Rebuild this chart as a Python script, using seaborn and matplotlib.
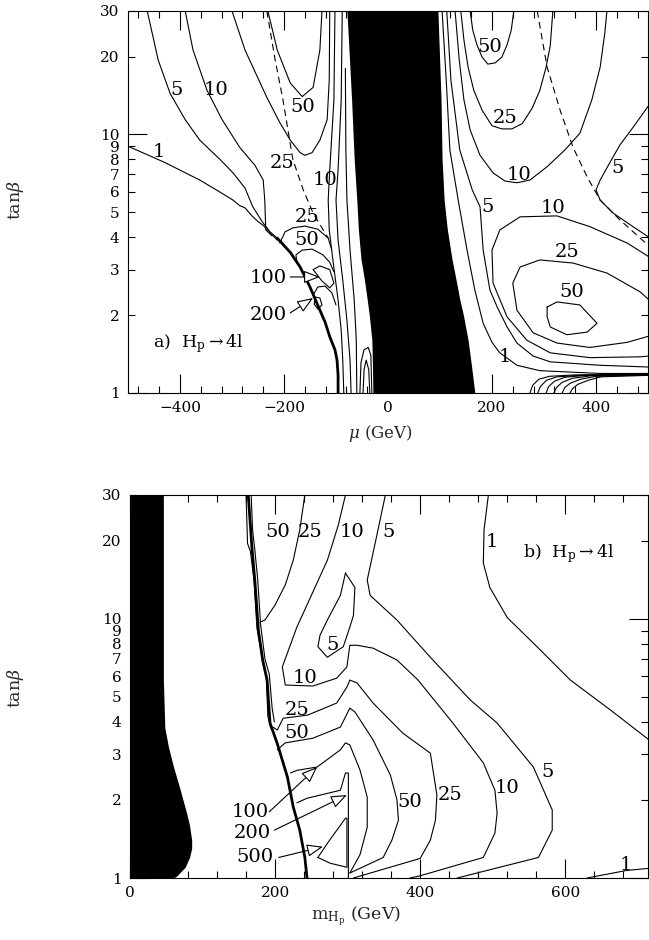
import matplotlib
matplotlib.use('Agg')
import matplotlib.pyplot as plt
import seaborn as sns

sns.set_theme(style='ticks')
plt.rcParams['font.family'] = ['DejaVu Serif', 'DejaVu Sans']
plt.rcParams['mathtext.fontset'] = 'dejavuserif'

# ---------------- axis tick values ----------------
ytick_major = [1, 10]
ytick_minor = [2, 3, 4, 5, 6, 7, 8, 9, 20, 30]
a_xmajor = [-400, -200, 0, 200, 400]
a_xminor = [-480, -440, -360, -320, -280, -240, -160, -120, -80, -40,
            40, 80, 120, 160, 240, 280, 320, 360, 440, 480]
b_xmajor = [0, 200, 400, 600]
b_xminor = [40, 80, 120, 160, 240, 280, 320, 360, 440, 480, 520, 560, 640, 680]

# ---------------- panel a: mu vs tan(beta) ----------------
a_black_tan = [1.0, 1.3, 1.6, 2.0, 2.3, 2.8, 3.3, 4.3, 5.57, 8.0, 13.6, 30]
a_black_left = [-29, -30, -31, -36, -40, -46, -52, -57, -60, -65, -70, -79]
a_black_right = [167, 160, 154, 145, 138, 130, 123, 114, 108, 104, 102, 96]

a_c1_mu = [-500, -430, -362, -330, -298, -285, -275, -262, -250, -240, -228, -213]
a_c1_tan = [9.0, 7.8, 6.66, 6.1, 5.57, 5.3, 5.2, 4.85, 4.6, 4.45, 4.2, 3.9]
a_c5_mu = [-463, -442, -419, -390, -362, -323, -298, -275, -260, -242, -227, -213]
a_c5_tan = [30, 19.4, 14.4, 11.4, 9.5, 8.0, 7.1, 6.2, 5.25, 4.6, 4.2, 3.97]
a_c10_mu = [-390, -375, -348, -319, -285, -256, -240, -237, -235, -223]
a_c10_tan = [30, 21.2, 14.8, 11.4, 8.9, 7.6, 6.66, 5.57, 4.27, 4.05]
a_c25_mu = [-300, -275, -233, -208, -188, -169, -160, -146, -131, -117, -113, -112]
a_c25_tan = [30, 21.2, 13.9, 11.1, 9.5, 8.5, 8.3, 8.5, 9.5, 11.4, 16.2, 30]
a_c50_mu = [-231, -213, -188, -165, -144, -131, -127]
a_c50_tan = [30, 21.2, 15.8, 14.0, 15.2, 21.2, 30]
a_va_mu = [-102, -104, -112, -115, -113, -106, -96, -90, -87, -85]
a_va_tan = [30, 13.6, 7.3, 5.57, 4.27, 3.27, 2.29, 1.75, 1.34, 1.0]
a_vb_mu = [-88, -90, -96, -100, -96, -87, -79, -73, -71]
a_vb_tan = [30, 13.6, 7.3, 5.57, 3.9, 2.73, 1.91, 1.34, 1.0]
a_vc_mu = [-82, -81, -79, -73, -65, -61, -60]
a_vc_tan = [18.0, 8.7, 5.57, 3.57, 2.29, 1.6, 1.0]
a_arch25_mu = [-208, -198, -183, -160, -135, -115, -108]
a_arch25_tan = [3.8, 4.2, 4.35, 4.42, 4.3, 3.97, 3.57]
a_arch50_mu = [-175, -177, -165, -146, -125, -112, -104]
a_arch50_tan = [3.18, 3.42, 3.57, 3.6, 3.42, 3.2, 2.94]
a_loop100_mu = [-144, -131, -112, -104, -112, -127, -144]
a_loop100_tan = [3.0, 3.1, 3.0, 2.66, 2.55, 2.71, 3.0]
a_arch3_mu = [-144, -135, -121, -108, -100]
a_arch3_tan = [2.39, 2.57, 2.59, 2.44, 2.19]
a_loop200_mu = [-140, -131, -127, -135, -142, -140]
a_loop200_tan = [2.35, 2.33, 2.19, 2.11, 2.21, 2.35]
a_thick_mu = [-213, -188, -169, -150, -137, -121, -112, -102, -98, -96, -96]
a_thick_tan = [3.97, 3.5, 3.07, 2.57, 2.23, 1.88, 1.65, 1.47, 1.34, 1.17, 1.0]
a_band1_mu = [-54, -52, -46, -38, -33, -31]
a_band1_tan = [1.0, 1.31, 1.47, 1.5, 1.4, 1.0]
a_band2_mu = [-48, -46, -42, -37, -35]
a_band2_tan = [1.0, 1.23, 1.34, 1.23, 1.0]
a_dashl_mu = [-233, -217, -202, -183, -163, -144, -127, -115]
a_dashl_tan = [30, 19.4, 13.6, 8.0, 6.1, 4.96, 4.35, 3.97]
a_dashr_mu = [287, 306, 331, 356, 383, 408, 446, 504]
a_dashr_tan = [30, 18.2, 12.4, 8.9, 6.85, 5.57, 4.67, 3.67]
a_r1_mu = [104, 112, 119, 135, 152, 167, 183, 200, 215, 248, 292, 408, 502]
a_r1_tan = [30, 16.2, 8.7, 5.57, 3.57, 2.5, 1.86, 1.57, 1.43, 1.28, 1.22, 1.19, 1.19]
a_r5_mu = [113, 121, 138, 162, 177, 183, 196, 210, 229, 248, 279, 312, 408, 502]
a_r5_tan = [30, 16.2, 8.7, 6.1, 5.25, 3.57, 2.5, 2.15, 1.8, 1.56, 1.39, 1.32, 1.28, 1.26]
a_r10u_mu = [129, 137, 146, 158, 177, 202, 225, 248, 273, 306, 340, 369, 392, 408, 417, 421]
a_r10u_tan = [30, 19.4, 13.6, 10.4, 8.3, 7.1, 6.6, 6.5, 6.66, 7.5, 8.7, 10.1, 13.6, 18.2, 24.7, 30]
a_r25u_mu = [140, 146, 154, 165, 181, 200, 219, 238, 258, 277, 292, 304, 312, 317]
a_r25u_tan = [30, 23.2, 18.2, 14.8, 12.4, 10.8, 10.5, 10.5, 11.0, 12.6, 14.8, 18.2, 22.0, 30]
a_r50u_mu = [158, 163, 171, 181, 192, 206, 219, 229, 237, 242]
a_r50u_tan = [30, 25.3, 22.2, 19.9, 18.7, 18.9, 19.9, 22.2, 25.3, 30]
a_r5b_mu = [502, 475, 446, 427, 408, 400, 408, 433, 471, 502]
a_r5b_tan = [13.0, 10.9, 9.1, 7.8, 6.66, 6.1, 5.57, 4.96, 4.4, 4.0]
a_r10m_mu = [502, 460, 388, 325, 254, 215, 200, 202, 229, 267, 312, 388, 485, 502]
a_r10m_tan = [3.36, 3.8, 4.4, 4.84, 4.8, 4.27, 3.57, 2.66, 1.97, 1.6, 1.43, 1.37, 1.38, 1.39]
a_r25_mu = [502, 485, 421, 356, 292, 254, 240, 248, 279, 325, 388, 460, 502]
a_r25_tan = [2.29, 2.46, 2.91, 3.18, 3.27, 3.07, 2.66, 2.09, 1.71, 1.56, 1.5, 1.57, 1.66]
a_r50_mu = [306, 325, 369, 402, 383, 344, 312, 306, 306]
a_r50_tan = [2.15, 2.25, 2.19, 1.86, 1.72, 1.68, 1.8, 1.97, 2.15]
a_arc1_mu = [273, 278, 290, 310, 360, 500]
a_arc1_tan = [1.0, 1.07, 1.13, 1.16, 1.175, 1.18]
a_arc2_mu = [288, 293, 305, 325, 370, 500]
a_arc2_tan = [1.0, 1.06, 1.12, 1.155, 1.17, 1.18]
a_arc3_mu = [304, 309, 320, 340, 380, 500]
a_arc3_tan = [1.0, 1.06, 1.11, 1.15, 1.17, 1.18]
a_arc4_mu = [319, 324, 335, 355, 390, 500]
a_arc4_tan = [1.0, 1.05, 1.10, 1.14, 1.165, 1.175]
a_arc5_mu = [335, 340, 350, 370, 400, 500]
a_arc5_tan = [1.0, 1.05, 1.09, 1.13, 1.16, 1.175]
a_arc6_mu = [350, 355, 365, 385, 410, 500]
a_arc6_tan = [1.0, 1.04, 1.08, 1.12, 1.155, 1.17]

a_lab_text = ['5', '10', '50', '1', '25', '10', '25', '50', '100', '200',
              '50', '25', '10', '5', '10', '5', '25', '50', '1']
a_lab_mu = [-406, -331, -163, -440, -204, -121, -156, -156, -231, -231,
            196, 225, 252, 192, 317, 442, 344, 354, 225]
a_lab_tan = [14.8, 14.8, 12.8, 8.55, 7.75, 6.66, 4.8, 3.9, 2.78, 2.0,
             21.8, 11.6, 6.95, 5.25, 5.2, 7.4, 3.5, 2.46, 1.38]
a_arrow_tail = [(-188, 2.81), (-188, 2.04)]
a_arrow_tip = [(-131, 2.81), (-144, 2.33)]

# ---------------- panel b: m_Hp vs tan(beta) ----------------
b_black_tan = [1.0, 1.02, 1.05, 1.1, 1.2, 1.3, 1.4, 1.6, 1.78, 2.2, 2.68, 3.2, 3.8, 5.8, 30]
b_black_m = [60, 65, 69, 76, 82, 85, 85, 82, 78, 69, 60, 53, 48, 46, 46]

b_thick_m = [163, 168, 172, 177, 183, 189, 193, 203, 217, 225, 234, 241, 244]
b_thick_tan = [30, 18.9, 14.1, 9.0, 6.9, 5.8, 3.96, 3.3, 2.45, 1.88, 1.53, 1.2, 1.0]
b_thinA_m = [160, 162, 166, 171, 175, 181, 184, 188, 190, 194, 199]
b_thinA_tan = [30, 19.5, 18.2, 14.0, 9.2, 7.4, 6.6, 5.9, 4.2, 3.8, 3.6]
b_thinB_m = [167, 169, 172, 176, 180, 186, 192, 196, 199]
b_thinB_tan = [30, 22, 18.5, 14.2, 9.5, 7.0, 6.1, 4.5, 4.0]
b_u25_m = [241, 234, 225, 214, 200, 186, 179]
b_u25_tan = [30, 22, 16.8, 13.5, 11.3, 9.88, 9.7]
b_c10_m = [297, 287, 272, 230, 210, 214, 252, 285, 299, 303, 313, 335, 368, 397,
           445, 487, 503, 506, 503, 487, 400, 386]
b_c10_tan = [30, 22.9, 16.8, 9.28, 6.52, 5.55, 5.5, 5.9, 6.52, 7.9, 7.9, 7.7, 6.93, 5.8,
             3.96, 2.78, 2.18, 1.78, 1.49, 1.2, 1.02, 1.0]
b_c5_m = [352, 339, 327, 331, 368, 414, 469, 506, 556, 582, 582, 563, 451]
b_c5_tan = [30, 20.2, 14.1, 12.3, 9.88, 7.1, 4.86, 3.96, 2.68, 1.83, 1.53, 1.2, 1.0]
b_c1_m = [494, 488, 487, 496, 520, 561, 607, 662, 716]
b_c1_tan = [30, 22, 16.4, 13.2, 10.1, 7.8, 5.8, 4.45, 3.4]
b_c1b_m = [630, 685, 716]
b_c1b_tan = [1.0, 1.07, 1.09]
b_loop5_m = [297, 310, 308, 303, 294, 272, 259, 262, 272, 290, 297]
b_loop5_tan = [15.0, 13.2, 10.3, 9.28, 7.8, 7.1, 7.8, 8.65, 9.88, 12.3, 15.0]
b_c25_m = [197, 203, 211, 245, 285, 299, 303, 313, 335, 376, 414, 423, 421, 414, 400, 308]
b_c25_tan = [3.82, 3.72, 4.13, 4.25, 4.73, 5.45, 5.8, 5.65, 4.73, 3.62, 3.03, 2.09, 1.67, 1.4, 1.19, 1.0]
b_c50_m = [203, 214, 252, 290, 303, 310, 335, 359, 368, 370, 361, 349, 303]
b_c50_tan = [3.12, 3.32, 3.46, 3.82, 4.52, 4.37, 3.41, 2.49, 2.0, 1.67, 1.4, 1.2, 1.045]
b_c100_m = [221, 230, 258, 290, 297, 303, 317, 327, 327, 317, 303]
b_c100_tan = [2.54, 2.6, 2.68, 3.12, 3.32, 3.26, 2.61, 2.05, 1.57, 1.23, 1.045]
b_c200_m = [230, 244, 290, 297, 301, 301]
b_c200_tan = [1.95, 2.03, 2.18, 2.54, 2.54, 1.0]
b_c500_m = [259, 272, 297, 299, 299, 276, 259]
b_c500_tan = [1.2, 1.36, 1.7, 1.7, 1.1, 1.14, 1.2]

b_lab_text = ['50', '25', '10', '5', '1', '5', '10', '25', '50', '100', '200', '500',
              '50', '25', '10', '5', '1']
b_lab_m = [203, 248, 306, 356, 499, 279, 241, 230, 230, 166, 168, 172, 386, 441, 520, 575, 683]
b_lab_tan = [21.6, 21.6, 21.6, 21.6, 19.8, 7.9, 5.9, 4.44, 3.62, 1.8, 1.49, 1.2,
             1.96, 2.09, 2.22, 2.56, 1.12]
b_arrow_tail = [(192, 1.8), (199, 1.53), (205, 1.2)]
b_arrow_tip = [(258, 2.68), (299, 2.09), (266, 1.32)]

# ---------------- drawing ----------------
W, H = 649, 940
fig = plt.figure(figsize=(W / 100, H / 100), dpi=100)
axA = fig.add_axes([128 / W, 1 - 393 / H, 520 / W, 382 / H])
axB = fig.add_axes([130 / W, 1 - 878 / H, 518 / W, 383 / H])

LW = 0.8
LABEL_FS = 14


def curve(ax, xs, ys, lw=LW, ls='-'):
    sns.lineplot(x=xs, y=ys, ax=ax, sort=False, estimator=None,
                 color='black', linewidth=lw, linestyle=ls)


def style(ax, xlim, xmaj, xmin):
    ax.set_yscale('log')
    ax.set_xlim(*xlim)
    ax.set_ylim(1, 30)
    ax.set_xticks(xmaj, labels=[str(v).replace('-', '\u2212') for v in xmaj])
    ax.set_xticks(xmin, minor=True)
    ax.set_yticks(ytick_major, labels=[str(v) for v in ytick_major])
    ax.set_yticks(ytick_minor, minor=True, labels=[str(v) for v in ytick_minor])
    ax.tick_params(which='both', direction='in', top=True, right=True,
                   color='black', width=0.8, labelsize=11, pad=6,
                   labelcolor='black')
    ax.tick_params(which='major', length=14)
    ax.tick_params(which='minor', length=5)
    for s in ax.spines.values():
        s.set_linewidth(0.8)
        s.set_color('black')
    ax.set_xlabel('')
    ax.set_ylabel('')


def arrow(ax, tail, tip):
    ax.annotate('', xy=tip, xytext=tail,
                arrowprops=dict(arrowstyle='-|>,head_length=0.9,head_width=0.35',
                                fc='white', ec='black', lw=0.8,
                                shrinkA=0, shrinkB=0, mutation_scale=11))


# panel a
axA.fill_betweenx(a_black_tan, a_black_left, a_black_right, color='black', lw=0)
for xs, ys in [(a_c1_mu, a_c1_tan), (a_c5_mu, a_c5_tan), (a_c10_mu, a_c10_tan),
               (a_c25_mu, a_c25_tan), (a_c50_mu, a_c50_tan), (a_va_mu, a_va_tan),
               (a_vb_mu, a_vb_tan), (a_vc_mu, a_vc_tan), (a_arch25_mu, a_arch25_tan),
               (a_arch50_mu, a_arch50_tan), (a_loop100_mu, a_loop100_tan),
               (a_arch3_mu, a_arch3_tan), (a_loop200_mu, a_loop200_tan),
               (a_band1_mu, a_band1_tan), (a_band2_mu, a_band2_tan),
               (a_r1_mu, a_r1_tan), (a_r5_mu, a_r5_tan), (a_r10u_mu, a_r10u_tan),
               (a_r25u_mu, a_r25u_tan), (a_r50u_mu, a_r50u_tan), (a_r5b_mu, a_r5b_tan),
               (a_r10m_mu, a_r10m_tan), (a_r25_mu, a_r25_tan), (a_r50_mu, a_r50_tan),
               (a_arc1_mu, a_arc1_tan), (a_arc2_mu, a_arc2_tan), (a_arc3_mu, a_arc3_tan),
               (a_arc4_mu, a_arc4_tan), (a_arc5_mu, a_arc5_tan), (a_arc6_mu, a_arc6_tan)]:
    curve(axA, xs, ys)
curve(axA, a_thick_mu, a_thick_tan, lw=2.0)
curve(axA, a_dashl_mu, a_dashl_tan, ls=(0, (6, 4)))
curve(axA, a_dashr_mu, a_dashr_tan, ls=(0, (6, 4)))
for t, x, y in zip(a_lab_text, a_lab_mu, a_lab_tan):
    axA.text(x, y, t, fontsize=LABEL_FS, ha='center', va='center', color='black')
for tl, tp in zip(a_arrow_tail, a_arrow_tip):
    arrow(axA, tl, tp)
axA.text(-452, 1.56, r'a)  H$_{\rm p}$$\rightarrow$4l', fontsize=12.5,
         ha='left', va='center', color='black')
style(axA, (-500, 500), a_xmajor, a_xminor)

# panel b
axB.fill_betweenx(b_black_tan, 0, b_black_m, color='black', lw=0)
for xs, ys in [(b_thinA_m, b_thinA_tan), (b_thinB_m, b_thinB_tan), (b_u25_m, b_u25_tan),
               (b_c10_m, b_c10_tan), (b_c5_m, b_c5_tan), (b_c1_m, b_c1_tan),
               (b_c1b_m, b_c1b_tan), (b_loop5_m, b_loop5_tan), (b_c25_m, b_c25_tan),
               (b_c50_m, b_c50_tan), (b_c100_m, b_c100_tan), (b_c200_m, b_c200_tan),
               (b_c500_m, b_c500_tan)]:
    curve(axB, xs, ys)
curve(axB, b_thick_m, b_thick_tan, lw=2.0)
for t, x, y in zip(b_lab_text, b_lab_m, b_lab_tan):
    axB.text(x, y, t, fontsize=LABEL_FS, ha='center', va='center', color='black')
for tl, tp in zip(b_arrow_tail, b_arrow_tip):
    arrow(axB, tl, tp)
axB.text(542, 17.9, r'b)  H$_{\rm p}$$\rightarrow$4l', fontsize=12.5,
         ha='left', va='center', color='black')
style(axB, (0, 714), b_xmajor, b_xminor)

# axis titles
fig.text(15 / W, 1 - 200 / H, r'tan$\beta$', rotation=90, fontsize=12.5,
         ha='center', va='center')
fig.text(15 / W, 1 - 688 / H, r'tan$\beta$', rotation=90, fontsize=12.5,
         ha='center', va='center')
fig.text(380 / W, 1 - 433 / H, r'$\mu$ (GeV)', fontsize=12, ha='center', va='center')
fig.text(356 / W, 1 - 916 / H, r'm$_{\rm H_p}$ (GeV)', fontsize=12.5, ha='center', va='center')

fig.savefig('out.png', dpi=100, facecolor='white')
